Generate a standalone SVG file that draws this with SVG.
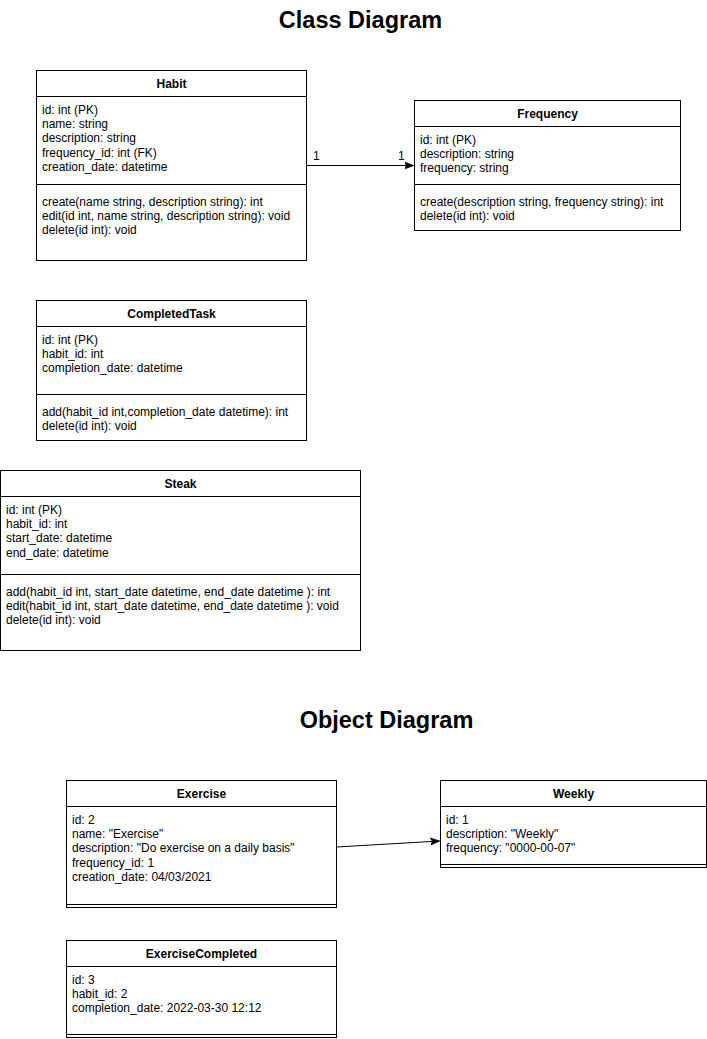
<svg xmlns="http://www.w3.org/2000/svg" width="707" height="1039" viewBox="0 0 707 1039">
<style>
.box{fill:#fff;stroke:#000;stroke-width:1}
.ln{stroke:#000;stroke-width:1;fill:none}
.t{font-family:"Liberation Sans",Arial,sans-serif;font-size:12px;fill:#000}
.h{font-family:"Liberation Sans",Arial,sans-serif;font-size:12px;font-weight:bold;fill:#000;text-anchor:middle}
.title{font-family:"Liberation Sans",Arial,sans-serif;font-size:23.5px;font-weight:bold;fill:#000;text-anchor:middle}
</style>
<defs>
<marker id="arr" markerWidth="10" markerHeight="10" refX="9" refY="5" orient="auto" markerUnits="userSpaceOnUse">
<path d="M0,1.5 L9,5 L0,8.5 L2,5 z" fill="#000" stroke="#000" stroke-width="0.8" stroke-linejoin="miter"/>
</marker>
</defs>
<rect width="707" height="1039" fill="#fff"/>
<text class="title" x="360.5" y="28">Class Diagram</text>
<text class="title" x="386.5" y="728">Object Diagram</text>

<g id="connectors">
<line class="ln" x1="306.5" y1="165.5" x2="413.5" y2="165.5" marker-end="url(#arr)"/>
<text class="t" x="313" y="160">1</text>
<text class="t" x="398" y="160">1</text>
<line class="ln" x1="336.5" y1="847" x2="439.5" y2="841" marker-end="url(#arr)"/>
</g>

<g id="Habit">
<rect class="box" x="36.5" y="70.5" width="270" height="190"/>
<line class="ln" x1="36.5" y1="96.5" x2="306.5" y2="96.5"/>
<line class="ln" x1="36.5" y1="184.5" x2="306.5" y2="184.5"/>
<text class="h" x="171.5" y="88">Habit</text>
<text class="t" x="42" y="114">id: int (PK)</text>
<text class="t" x="42" y="128.2">name: string</text>
<text class="t" x="42" y="142.4">description: string</text>
<text class="t" x="42" y="156.6">frequency_id: int (FK)</text>
<text class="t" x="42" y="170.8">creation_date: datetime</text>
<text class="t" x="42" y="206">create(name string, description string): int</text>
<text class="t" x="42" y="220.2">edit(id int, name string, description string): void</text>
<text class="t" x="42" y="234.4">delete(id int): void</text>
</g>

<g id="Frequency">
<rect class="box" x="414.5" y="100.5" width="266" height="130"/>
<line class="ln" x1="414.5" y1="126.5" x2="680.5" y2="126.5"/>
<line class="ln" x1="414.5" y1="184.5" x2="680.5" y2="184.5"/>
<text class="h" x="547.5" y="118">Frequency</text>
<text class="t" x="420" y="144">id: int (PK)</text>
<text class="t" x="420" y="158.2">description: string</text>
<text class="t" x="420" y="172.4">frequency: string</text>
<text class="t" x="420" y="206">create(description string, frequency string): int</text>
<text class="t" x="420" y="220.2">delete(id int): void</text>
</g>

<g id="CompletedTask">
<rect class="box" x="36.5" y="300.5" width="270" height="140"/>
<line class="ln" x1="36.5" y1="326.5" x2="306.5" y2="326.5"/>
<line class="ln" x1="36.5" y1="394.5" x2="306.5" y2="394.5"/>
<text class="h" x="171.5" y="318">CompletedTask</text>
<text class="t" x="42" y="344">id: int (PK)</text>
<text class="t" x="42" y="358.2">habit_id: int</text>
<text class="t" x="42" y="372.4">completion_date: datetime</text>
<text class="t" x="42" y="416">add(habit_id int,completion_date datetime): int</text>
<text class="t" x="42" y="430.2">delete(id int): void</text>
</g>

<g id="Steak">
<rect class="box" x="0.5" y="470.5" width="360" height="180"/>
<line class="ln" x1="0.5" y1="496.5" x2="360.5" y2="496.5"/>
<line class="ln" x1="0.5" y1="574.5" x2="360.5" y2="574.5"/>
<text class="h" x="180.5" y="488">Steak</text>
<text class="t" x="6" y="514">id: int (PK)</text>
<text class="t" x="6" y="528.2">habit_id: int</text>
<text class="t" x="6" y="542.4">start_date: datetime</text>
<text class="t" x="6" y="556.6">end_date: datetime</text>
<text class="t" x="6" y="596">add(habit_id int, start_date datetime, end_date datetime ): int</text>
<text class="t" x="6" y="610.2">edit(habit_id int, start_date datetime, end_date datetime ): void</text>
<text class="t" x="6" y="624.4">delete(id int): void</text>
</g>

<g id="Exercise">
<rect class="box" x="66.5" y="780.5" width="270" height="127"/>
<line class="ln" x1="66.5" y1="806.5" x2="336.5" y2="806.5"/>
<line class="ln" x1="66.5" y1="904.5" x2="336.5" y2="904.5"/>
<text class="h" x="201.5" y="798">Exercise</text>
<text class="t" x="72" y="824">id: 2</text>
<text class="t" x="72" y="838.2">name: "Exercise"</text>
<text class="t" x="72" y="852.4">description: "Do exercise on a daily basis"</text>
<text class="t" x="72" y="866.6">frequency_id: 1</text>
<text class="t" x="72" y="880.8">creation_date: 04/03/2021</text>
</g>

<g id="Weekly">
<rect class="box" x="440.5" y="780.5" width="266" height="87"/>
<line class="ln" x1="440.5" y1="806.5" x2="706.5" y2="806.5"/>
<line class="ln" x1="440.5" y1="864.5" x2="706.5" y2="864.5"/>
<text class="h" x="573.5" y="798">Weekly</text>
<text class="t" x="446" y="824">id: 1</text>
<text class="t" x="446" y="838.2">description: "Weekly"</text>
<text class="t" x="446" y="852.4">frequency: "0000-00-07"</text>
</g>

<g id="ExerciseCompleted">
<rect class="box" x="66.5" y="940.5" width="270" height="97"/>
<line class="ln" x1="66.5" y1="966.5" x2="336.5" y2="966.5"/>
<line class="ln" x1="66.5" y1="1034.5" x2="336.5" y2="1034.5"/>
<text class="h" x="201.5" y="958">ExerciseCompleted</text>
<text class="t" x="72" y="984">id: 3</text>
<text class="t" x="72" y="998.2">habit_id: 2</text>
<text class="t" x="72" y="1012.4">completion_date: 2022-03-30 12:12</text>
</g>
</svg>
